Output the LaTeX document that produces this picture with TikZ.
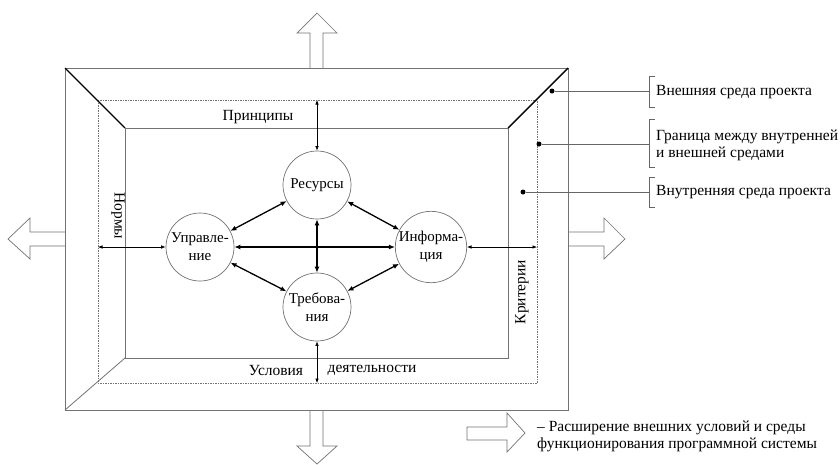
\documentclass[tikz,border=0pt]{standalone}
\usepackage{fontspec}
\setmainfont{Liberation Serif}
\usetikzlibrary{arrows.meta}
\begin{document}
\begin{tikzpicture}[x=1pt,y=-1pt,
  frame/.style={draw=black!55,line width=0.8pt},
  dashframe/.style={draw=black!55,line width=0.6pt,dash pattern=on 1.5pt off 1pt},
  diag/.style={draw=black,line width=1.4pt},
  blockarrow/.style={draw=black!55,line width=0.7pt,fill=white},
  circ/.style={circle,draw=black!55,line width=0.7pt,minimum size=68pt,inner sep=0pt,align=center,font=\fontsize{15}{18}\selectfont,fill=white},
  bigarr/.style={line width=1.3pt,{Latex[length=6pt,width=5pt]}-{Latex[length=6pt,width=5pt]}},
  smallarr/.style={line width=0.6pt,{Latex[length=4.5pt,width=3.5pt]}-{Latex[length=4.5pt,width=3.5pt]}},
  lbl/.style={font=\fontsize{15.5}{17}\selectfont,inner sep=0pt},
  leader/.style={draw=black!60,line width=0.6pt},
  dot/.style={circle,fill=black,inner sep=0pt,minimum size=5pt}]
\useasboundingbox (0,0) rectangle (840,464);
\fill[white] (0,0) rectangle (840,464);
% block arrows
\draw[blockarrow] (310,68) -- (310,33) -- (297,33) -- (317,13) -- (337,33) -- (323,33) -- (323,68);
\draw[blockarrow] (310,410) -- (310,446) -- (297,446) -- (317,464) -- (337,446) -- (323,446) -- (323,410);
\draw[blockarrow] (65,232) -- (30,232) -- (30,218) -- (8,239) -- (30,259) -- (30,246) -- (65,246);
\draw[blockarrow] (568,232) -- (604,232) -- (604,218) -- (625,239) -- (604,259) -- (604,246) -- (568,246);
% frames
\draw[frame] (65,68) rectangle (568,410);
\draw[dashframe] (98,100) rectangle (537,383);
\draw[frame] (125,128) rectangle (508,358);
\draw[diag] (65,68) -- (125,128);
\draw[diag] (568,68) -- (508,128);
\draw[frame] (65,410) -- (125,358);
% circles
\node[circ] (res) at (317,185) {Ресурсы};
\node[circ] (upr) at (200,247) {Управле-\\ние};
\node[circ] (inf) at (431,247) {Информа-\\ция};
\node[circ] (treb) at (317,307) {Требова-\\ния};
\draw[bigarr] (upr) -- (inf);
\draw[bigarr] (res) -- (treb);
\draw[bigarr] (upr) -- (res);
\draw[bigarr] (res) -- (inf);
\draw[bigarr] (upr) -- (treb);
\draw[bigarr] (treb) -- (inf);
% thin arrows
\coordinate (pt) at (317,100);
\coordinate (pb) at (317,383);
\coordinate (pl) at (98,247);
\coordinate (pr) at (537,247);
\draw[smallarr] (pt) -- (res.north);
\draw[smallarr] (treb.south) -- (pb);
\draw[smallarr] (pl) -- (upr.west);
\draw[smallarr] (inf.east) -- (pr);
% labels
\node[lbl] (princ) at (258,117) {Принципы};
\node[lbl,rotate=-90] (normy) at (118,216) {Нормы};
\node[lbl,rotate=90] (krit) at (522,292) {Критерии};
\node[lbl] (usl) at (276,370) {Условия};
\node[lbl] (deyat) at (372,370) {деятельности};
% legend right
\node[dot] (d1) at (552,91) {};
\node[dot] (d2) at (539,144) {};
\node[dot] (d3) at (523,192) {};
\coordinate (b1) at (649,91);
\coordinate (b2) at (649,144);
\coordinate (b3) at (649,192);
\draw[leader] (d1) -- (b1);
\draw[leader] (d2) -- (b2);
\draw[leader] (d3) -- (b3);
\draw[leader] (655,76) -- (649,76) -- (649,107) -- (655,107);
\draw[leader] (655,119) -- (649,119) -- (649,167) -- (655,167);
\draw[leader] (655,177) -- (649,177) -- (649,207) -- (655,207);
\node[lbl,anchor=west] (t1) at (656,92) {Внешняя среда проекта};
\node[lbl,anchor=west,align=left] (t2) at (656,145.5) {Граница между внутренней\\и внешней средами};
\node[lbl,anchor=west] (t3) at (656,192) {Внутренняя среда проекта};
% legend bottom
\draw[blockarrow] (507,427) -- (467,427) -- (467,440) -- (507,440) -- (507,452) -- (525,433) -- (507,413) -- cycle;
\node[lbl,anchor=west,align=left] (leg) at (537,436.5) {– Расширение внешних условий и среды\\функционирования программной системы};
\end{tikzpicture}
\end{document}
